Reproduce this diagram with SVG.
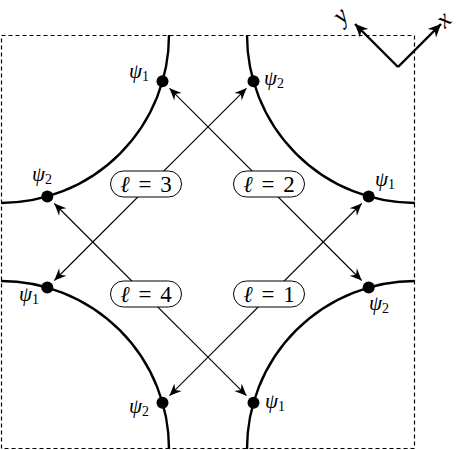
<svg xmlns="http://www.w3.org/2000/svg" width="457" height="450" viewBox="0 0 457 450">
<style>
.arc{fill:none;stroke:#000;stroke-width:2.4}
.dot{fill:#000}
.conn{stroke:#000;stroke-width:1.1;fill:none;marker-start:url(#ah);marker-end:url(#ah)}
.axis{stroke:#000;stroke-width:2.4;fill:none;marker-end:url(#ahb)}
.pill{fill:#fff;stroke:#000;stroke-width:1}
.lbl{font-family:"Liberation Serif","DejaVu Serif",serif;font-size:23px;text-anchor:middle;word-spacing:3px}
.psi{font-family:"Liberation Serif","DejaVu Serif",serif;font-size:21px;font-style:italic}
.sub{font-size:14px;font-style:normal}
.ax{font-family:"Liberation Serif","DejaVu Serif",serif;font-size:25px;font-style:italic;text-anchor:middle;dominant-baseline:central}
</style>
<defs>
<marker id="ah" markerUnits="userSpaceOnUse" markerWidth="14" markerHeight="12" viewBox="-12 -6 13 12" refX="0" refY="0" orient="auto-start-reverse">
<path d="M0,0 L-12,-5.2 L-8,0 L-12,5.2 Z" fill="#000"/>
</marker>
<marker id="ahb" markerUnits="userSpaceOnUse" markerWidth="16" markerHeight="14" viewBox="-13 -7 14 14" refX="0" refY="0" orient="auto">
<path d="M0,0 L-13,-6 L-9,0 L-13,6 Z" fill="#000"/>
</marker>
</defs>
<rect x="1.5" y="35.5" width="413" height="413" fill="none" stroke="#000" stroke-width="1.2" stroke-dasharray="4 3"/>
<g id="connectors">
<line class="conn" x1="169.5" y1="88.3" x2="361.7" y2="280.5"/>
<line class="conn" x1="169.5" y1="395.7" x2="361.7" y2="203.5"/>
<line class="conn" x1="246.5" y1="88.3" x2="54.3" y2="280.5"/>
<line class="conn" x1="54.3" y1="203.5" x2="246.5" y2="395.7"/>
</g>
<g id="arc-tl">
<path class="arc" d="M169,35 A168,168 0 0 1 1,203"/>
<circle class="dot" cx="162.5" cy="81.3" r="6"/>
<circle class="dot" cx="47.3" cy="196.5" r="6"/>
<text class="psi" x="129" y="78">ψ<tspan class="sub" dy="3">1</tspan></text>
<text class="psi" x="32" y="181">ψ<tspan class="sub" dy="3">2</tspan></text>
</g>
<g id="arc-tr">
<path class="arc" d="M247,35 A168,168 0 0 0 415,203"/>
<circle class="dot" cx="253.5" cy="81.3" r="6"/>
<circle class="dot" cx="368.7" cy="196.5" r="6"/>
<text class="psi" x="264" y="85">ψ<tspan class="sub" dy="3">2</tspan></text>
<text class="psi" x="375" y="186">ψ<tspan class="sub" dy="3">1</tspan></text>
</g>
<g id="arc-bl">
<path class="arc" d="M1,281 A168,168 0 0 1 169,449"/>
<circle class="dot" cx="47.3" cy="287.5" r="6"/>
<circle class="dot" cx="162.5" cy="402.7" r="6"/>
<text class="psi" x="19" y="301">ψ<tspan class="sub" dy="3">1</tspan></text>
<text class="psi" x="129" y="413">ψ<tspan class="sub" dy="3">2</tspan></text>
</g>
<g id="arc-br">
<path class="arc" d="M415,281 A168,168 0 0 0 247,449"/>
<circle class="dot" cx="368.7" cy="287.5" r="6"/>
<circle class="dot" cx="253.5" cy="402.7" r="6"/>
<text class="psi" x="369" y="310">ψ<tspan class="sub" dy="3">2</tspan></text>
<text class="psi" x="265" y="408">ψ<tspan class="sub" dy="3">1</tspan></text>
</g>
<g id="label-l3">
<rect class="pill" x="110.5" y="171" width="71" height="26" rx="13"/>
<text class="lbl" x="146" y="192"><tspan font-style="italic">ℓ</tspan> = 3</text>
</g>
<g id="label-l2">
<rect class="pill" x="233.5" y="171" width="71" height="26" rx="13"/>
<text class="lbl" x="269" y="192"><tspan font-style="italic">ℓ</tspan> = 2</text>
</g>
<g id="label-l4">
<rect class="pill" x="110.5" y="281" width="71" height="26" rx="13"/>
<text class="lbl" x="146" y="302"><tspan font-style="italic">ℓ</tspan> = 4</text>
</g>
<g id="label-l1">
<rect class="pill" x="233.5" y="281" width="71" height="26" rx="13"/>
<text class="lbl" x="269" y="302"><tspan font-style="italic">ℓ</tspan> = 1</text>
</g>
<g id="axes">
<line class="axis" x1="398" y1="67" x2="441" y2="24"/>
<line class="axis" x1="398" y1="67" x2="355" y2="24"/>
<text class="ax" transform="translate(443,19) rotate(-45)">x</text>
<text class="ax" transform="translate(340,15) rotate(-45)">y</text>
</g>
</svg>
